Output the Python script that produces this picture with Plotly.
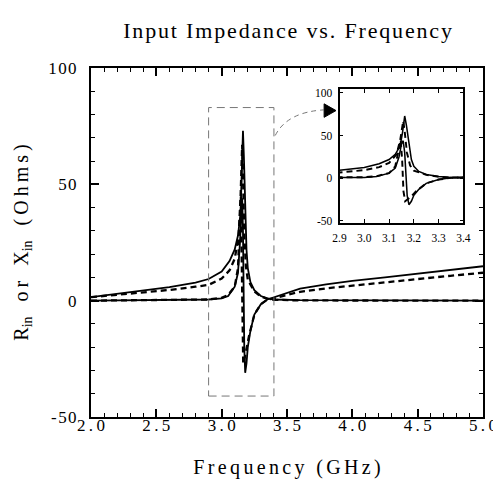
import plotly.graph_objects as go

# ---------------- data ----------------
freq_r_meas = [2.0, 2.2, 2.4, 2.6, 2.8, 2.9, 3.0, 3.06, 3.1, 3.125, 3.145, 3.155, 3.163,
               3.17, 3.178, 3.19, 3.2, 3.22, 3.25, 3.3, 3.35, 3.4, 3.6, 4.0, 4.5, 5.0]
r_meas = [1.5, 3.0, 4.4, 5.8, 7.8, 9.3, 12.5, 17, 22, 28, 38, 55, 73,
          62, 45, 22, 14, 8, 4.5, 2, 1, 0.5, 0.2, 0.1, 0.0, 0.0]

freq_r_sim = [2.0, 2.2, 2.4, 2.6, 2.8, 2.9, 3.0, 3.06, 3.1, 3.13, 3.145, 3.152, 3.157,
              3.163, 3.172, 3.185, 3.2, 3.25, 3.3, 3.35, 3.4, 3.6, 4.0, 4.5, 5.0]
r_sim = [1.5, 2.5, 3.5, 4.6, 6.0, 6.8, 9.5, 13, 18, 28, 45, 62, 67,
         55, 30, 15, 9, 4, 1.8, 0.8, 0.4, 0.1, 0.0, 0.0, 0.0]

freq_x_meas = [2.0, 2.5, 2.9, 3.0, 3.05, 3.1, 3.125, 3.14, 3.15, 3.157, 3.163, 3.168,
               3.173, 3.18, 3.19, 3.2, 3.22, 3.25, 3.3, 3.35, 3.4, 3.5, 3.6, 3.8,
               4.0, 4.25, 4.5, 4.75, 5.0]
x_meas = [0.0, 0.2, 0.5, 1.0, 2.0, 6.0, 12, 25, 40, 44, 30, 0,
          -20, -31, -27, -20, -13, -6, -1.5, 0.5, 1.5, 3.5, 5.2, 7.0,
          8.5, 10.0, 11.7, 13.3, 14.8]

freq_x_sim = [2.0, 2.5, 2.9, 3.0, 3.05, 3.1, 3.125, 3.14, 3.147, 3.153, 3.158, 3.165,
              3.175, 3.19, 3.21, 3.25, 3.3, 3.35, 3.4, 3.5, 3.6, 3.8, 4.0, 4.25,
              4.5, 4.75, 5.0]
x_sim = [0.0, 0.2, 0.5, 1.2, 2.5, 6.0, 14, 35, 45, 20, -15, -27,
         -25, -21, -15, -6, -1.5, 0.5, 1.0, 2.5, 3.8, 5.3, 6.5, 8.0,
         9.3, 10.7, 12.0]

main_xticks = [2.0, 2.5, 3.0, 3.5, 4.0, 4.5, 5.0]
main_xlabels = ["2.0", "2.5", "3.0", "3.5", "4.0", "4.5", "5.0"]
main_yticks = [-50, 0, 50, 100]
main_ylabels = ["-50", "0", "50", "100"]
inset_xticks = [2.9, 3.0, 3.1, 3.2, 3.3, 3.4]
inset_xlabels = ["2.9", "3.0", "3.1", "3.2", "3.3", "3.4"]
inset_yticks = [-50, 0, 50, 100]
inset_ylabels = ["-50", "0", "50", "100"]

TS = "\u2009"   # thin space
HS = "\u200a"   # hair space
NB = "\u00a0"


def spaced(s, gap):
    return gap.join(NB if c == " " else c for c in s)


FONT = "Liberation Serif"

fig = go.Figure()

series = [
    (freq_r_meas, r_meas, "solid", 1.8),
    (freq_x_meas, x_meas, "solid", 1.8),
    (freq_r_sim, r_sim, "6px,4px", 2.3),
    (freq_x_sim, x_sim, "6px,4px", 2.3),
]
for xa, ya in [("x", "y"), ("x2", "y2")]:
    for f, v, dash, w in series:
        fig.add_trace(go.Scatter(
            x=f, y=v, mode="lines", xaxis=xa, yaxis=ya,
            line=dict(color="black", width=w if xa == "x" else w * 0.85, dash=dash),
            showlegend=False, hoverinfo="skip"))

axis_common = dict(showgrid=False, zeroline=False, showline=True, linecolor="black",
                   mirror="allticks", ticks="inside", tickcolor="black")

title_text = spaced("Input Impedance vs. Frequency", HS)
xtitle_text = spaced("Frequency (GHz)", HS * 2)
ytitle_text = ("R<sub>in</sub>" + NB * 3 + spaced("or", TS) + NB * 3 + "X<sub>in</sub>"
               + NB * 3 + spaced("(Ohms)", TS))

fig.update_layout(
    width=501, height=485,
    margin=dict(l=83, r=14, t=60, b=76),
    paper_bgcolor="white", plot_bgcolor="white",
    font=dict(family=FONT, color="black"),
    title=dict(text=title_text,
               x=0.558, xanchor="center", y=0.955, yanchor="middle",
               font=dict(size=22, family=FONT, color="black")),
    xaxis=dict(**axis_common, range=[2.0, 5.0], domain=[0, 1], linewidth=2,
               tickvals=main_xticks, ticktext=[spaced(t, TS) for t in main_xlabels],
               ticklen=8, tickwidth=1.5, ticklabelstandoff=-8,
               tickfont=dict(size=17, family=FONT),
               minor=dict(dtick=0.1, ticklen=4, ticks="inside", tickcolor="black", tickwidth=1.2),
               title=dict(text=xtitle_text,
                          font=dict(size=20, family=FONT), standoff=26)),
    yaxis=dict(**axis_common, range=[-50, 100], domain=[0, 1], linewidth=2,
               tickvals=main_yticks, ticktext=[spaced(t, HS) for t in main_ylabels],
               ticklen=8, tickwidth=1.5, ticklabelstandoff=9,
               tickfont=dict(size=17, family=FONT),
               minor=dict(dtick=10, ticklen=4, ticks="inside", tickcolor="black", tickwidth=1.2),
               title=dict(text=ytitle_text,
                          font=dict(size=20, family=FONT), standoff=14)),
    xaxis2=dict(**axis_common, anchor="y2", domain=[0.634, 0.950], range=[2.9, 3.4],
                linewidth=1.8, tickvals=inset_xticks, ticktext=inset_xlabels,
                ticklen=4, tickwidth=1, ticklabelstandoff=3,
                tickfont=dict(size=11.5, family=FONT)),
    yaxis2=dict(**axis_common, anchor="x2", domain=[0.556, 0.94], range=[-52.4, 104.7],
                linewidth=1.8, tickvals=inset_yticks, ticktext=inset_ylabels,
                ticklen=4, tickwidth=1, ticklabelstandoff=3,
                tickfont=dict(size=11.5, family=FONT)),
)

# dashed zoom rectangle in the main plot
fig.add_shape(type="rect", xref="x", yref="y", x0=2.9, x1=3.4, y0=-41, y1=83,
              line=dict(color="#777777", width=1, dash="8px,5px"), layer="above")
# curved dashed connector and arrow head
fig.add_shape(type="path", xref="x", yref="y",
              path="M 3.41,71 Q 3.5,81 3.78,82",
              line=dict(color="#777777", width=1, dash="5px,4px"))
fig.add_shape(type="path", xref="x", yref="y",
              path="M 3.784,84.6 L 3.875,81.7 L 3.784,78.8 Z",
              fillcolor="black", line=dict(color="black", width=1))

fig.write_html("out.html")
